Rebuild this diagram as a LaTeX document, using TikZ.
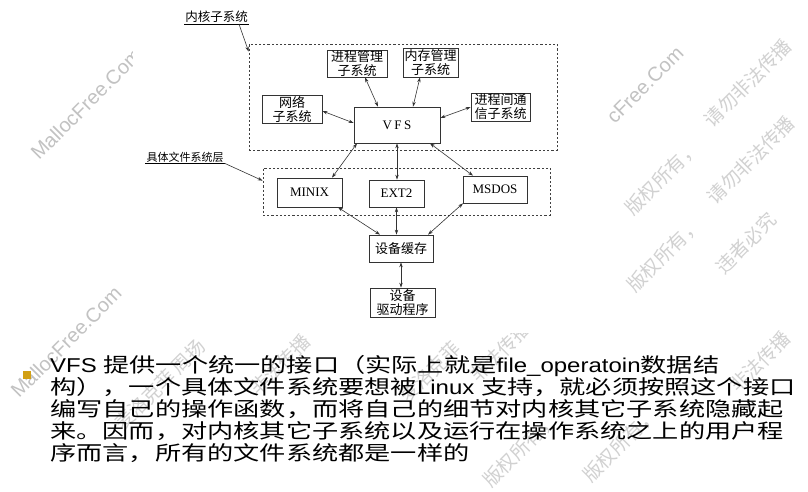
\documentclass[tikz,border=0pt]{standalone}
\usepackage{fontspec}
\usepackage{graphicx}
\setmainfont{Liberation Serif}
\newfontfamily\cjkfont{Noto Sans CJK SC}
\newfontfamily\arialfont{Liberation Sans}
\usetikzlibrary{arrows.meta}
\definecolor{bulletgold}{RGB}{210,160,20}
\newcommand\cjktext[1]{\scalebox{1.31}[1]{\cjkfont #1}}
\newcommand\lattext[1]{\scalebox{1.2}[1]{\arialfont #1}}

\begin{document}
\begin{tikzpicture}[x=1pt,y=-1pt,
  box/.style={draw=black!80, line width=0.7pt, fill=white, inner sep=0pt,
    align=center, font=\cjkfont\fontsize{13}{14}\selectfont},
  latinbox/.style={box, font=\rmfamily\fontsize{13}{14}\selectfont},
  group/.style={draw=black!75, line width=0.7pt, dash pattern=on 2.2pt off 2pt, inner sep=0pt},
  link/.style={draw=black!80, line width=0.6pt,
    {Stealth[length=5pt,width=3.4pt]}-{Stealth[length=5pt,width=3.4pt]}},
  pointer/.style={draw=black!80, line width=0.6pt, -{Stealth[length=5pt,width=3.4pt]}},
  tag/.style={font=\cjkfont\fontsize{12.5}{13}\selectfont, inner sep=1pt},
  wm/.style={text=black!24, rotate=45, font=\arialfont\fontsize{20}{20}\selectfont},
  wmzh/.style={text=black!18, rotate=45, font=\cjkfont\fontsize{19}{19}\selectfont},
  bodyline/.style={anchor=base west, inner sep=0pt, font=\fontsize{20}{21}\selectfont}
]
\useasboundingbox (0,0) rectangle (808,492);
\fill[white] (0,0) rectangle (808,492);

% faint watermark layer
\node[wm] (wmA) at (86,104) {MallocFree.Com};
\node[wm] (wmB) at (66,342) {MallocFree.Com};
\node[wm] (wmC) at (645,85) {cFree.Com};
\node[wmzh] (wmD) at (748,83) {请勿非法传播};
\node[wmzh] (wmE) at (662,178) {版权所有，};
\node[wmzh] (wmF) at (751,160) {请勿非法传播};
\node[wmzh] (wmG) at (664,255) {版权所有，};
\node[wmzh] (wmH) at (746,243) {违者必究};
\node[wmzh] (wmI) at (160,385) {麦洛克菲 周扬};
\node[wmzh] (wmJ) at (280,365) {非法传播};
\node[wmzh] (wmK) at (430,372) {麦洛克菲};
\node[wmzh] (wmL) at (500,352) {非法传播};
\node[wmzh] (wmM) at (520,450) {版权所有，};
\node[wmzh] (wmN) at (620,445) {版权所有，};
\node[wmzh] (wmO) at (760,362) {非法传播};

% white sheet of the diagram
\fill[white] (133,0) rectangle (575,333);

% grouping frames
\node[group, minimum width=308pt, minimum height=106pt] (kernel) at (403,97) {};
\node[group, minimum width=287pt, minimum height=47pt] (fs) at (406.5,191.5) {};

% kernel subsystems
\node[box, minimum width=60pt, minimum height=27pt] (pm) at (357,63.5) {进程管理\\子系统};
\node[box, minimum width=55pt, minimum height=29pt] (mm) at (430.5,62.5) {内存管理\\子系统};
\node[box, minimum width=60pt, minimum height=28pt] (net) at (292,109) {网络\\子系统};
\node[box, minimum width=59pt, minimum height=28pt] (ipc) at (500.5,107) {进程间通\\信子系统};
\node[latinbox, minimum width=86pt, minimum height=36pt] (vfs) at (397,125) {V\hspace{2.5pt}F\hspace{2.5pt}S};

% concrete file systems
\node[latinbox, minimum width=65pt, minimum height=29pt] (minix) at (309.5,192.5) {MINIX};
\node[latinbox, minimum width=55pt, minimum height=27pt] (ext2) at (396.5,193.5) {EXT2};
\node[latinbox, minimum width=64pt, minimum height=27pt] (msdos) at (495,189.5) {MSDOS};

% lower layers
\node[box, minimum width=64pt, minimum height=27pt] (cache) at (401,248.5) {设备缓存};
\node[box, minimum width=65pt, minimum height=29pt] (drv) at (402.5,302.5) {设备\\驱动程序};

% links around the VFS
\draw[link] ([xshift=8pt]pm.south) -- ([xshift=-19pt]vfs.north);
\draw[link] ([xshift=-10.5pt]mm.south) -- ([xshift=16pt]vfs.north);
\draw[link] ([yshift=-2pt]net.east) -- ([yshift=2pt]vfs.west);
\draw[link] (ipc.west) -- ([yshift=7pt]vfs.east);
\draw[link] ([xshift=-40pt]vfs.south) -- ([xshift=22.5pt]minix.north);
\draw[link] (vfs.south) -- (vfs.south |- ext2.north);
\draw[link] ([xshift=33pt]vfs.south) -- ([xshift=-22pt]msdos.north);
\draw[link] ([xshift=28.5pt]minix.south) -- ([xshift=-21pt]cache.north);
\draw[link] (ext2.south) -- (ext2.south |- cache.north);
\draw[link] ([xshift=-32pt]msdos.south) -- ([xshift=27pt]cache.north);
\draw[link] (cache.south) -- (cache.south |- drv.north);

% frame captions
\node[tag] (klabel) at (216.5,17) {内核子系统};
\draw[line width=0.6pt] (klabel.south west) -- (klabel.south east);
\draw[pointer] ([xshift=-10pt]klabel.south east) -- ([yshift=-8pt]kernel.north west);
\node[tag, font=\cjkfont\fontsize{11}{12}\selectfont] (flabel) at (185,157) {具体文件系统层};
\draw[line width=0.6pt] (flabel.south west) -- (flabel.south east);
\draw[pointer] (flabel.south east) -- ([yshift=-13pt]fs.north west);

% bullet paragraph
\node[fill=bulletgold, minimum size=8pt, inner sep=0pt] (bullet) at (26.5,375) {};
\node[bodyline] (l1) at (50,372) {\lattext{VFS }\cjktext{提供一个统一的接口（实际上就是}\lattext{file\_operatoin}\cjktext{数据结}};
\node[bodyline] (l2) at (50,394) {\cjktext{构），一个具体文件系统要想被}\lattext{Linux }\cjktext{支持，就必须按照这个接口}};
\node[bodyline] (l3) at (50,416) {\cjktext{编写自己的操作函数，而将自己的细节对内核其它子系统隐藏起}};
\node[bodyline] (l4) at (50,438) {\cjktext{来。因而，对内核其它子系统以及运行在操作系统之上的用户程}};
\node[bodyline] (l5) at (50,460) {\cjktext{序而言，所有的文件系统都是一样的}};
\end{tikzpicture}
\end{document}
